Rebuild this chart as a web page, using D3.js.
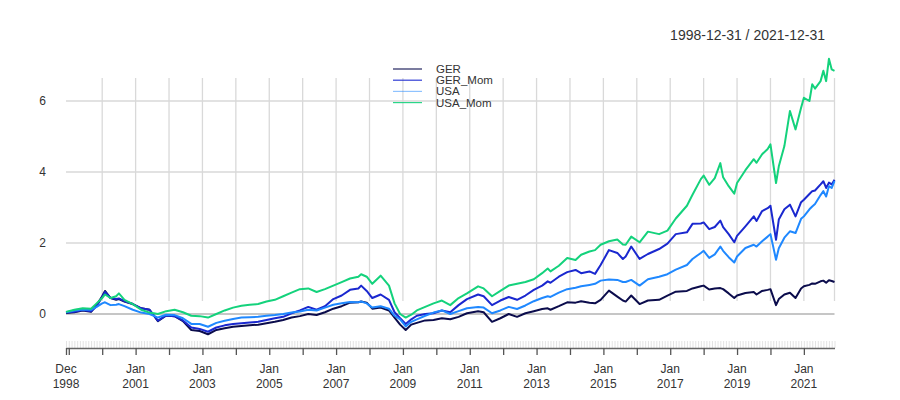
<!DOCTYPE html>
<html>
<head>
<meta charset="utf-8">
<script src="https://cdn.jsdelivr.net/npm/d3@7"></script>
<style>
  body { margin: 0; background: #fff; }
  svg { font-family: "Liberation Sans", Arial, sans-serif; }
</style>
</head>
<body>
<svg id="chart"></svg>
<script>
// sampled month ends (YYYY-MM), cumulative return per series
const months = ["1998-12","1999-03","1999-06","1999-09","1999-11","2000-01","2000-02","2000-04","2000-06","2000-07","2000-09","2000-12",
  "2001-03","2001-06","2001-09","2001-12","2002-03","2002-06","2002-09","2002-12","2003-03","2003-06","2003-09","2003-12",
  "2004-03","2004-06","2004-09","2004-12","2005-03","2005-06","2005-09","2005-12","2006-03","2006-06","2006-09","2006-12",
  "2007-03","2007-06","2007-09","2007-10","2007-12","2008-02","2008-05","2008-08","2008-10","2008-12","2009-02","2009-04",
  "2009-06","2009-09","2009-12","2010-03","2010-06","2010-09","2010-12","2011-04","2011-06","2011-09","2011-12","2012-03",
  "2012-06","2012-09","2012-12","2013-03","2013-05","2013-06","2013-09","2013-12","2014-03","2014-05","2014-08","2014-10",
  "2014-12","2015-03","2015-06","2015-08","2015-09","2015-11","2016-02","2016-05","2016-09","2016-12","2017-03","2017-07",
  "2017-09","2017-12","2018-01","2018-03","2018-05","2018-07","2018-08","2018-10","2018-12","2019-01","2019-04","2019-07",
  "2019-08","2019-10","2019-12","2020-01","2020-03","2020-04","2020-06","2020-08","2020-10","2020-12","2021-01","2021-03",
  "2021-04","2021-05","2021-07","2021-08","2021-09","2021-10","2021-11","2021-12"];

const ger = [0.03,0.05,0.10,0.06,0.25,0.50,0.65,0.45,0.40,0.42,0.35,0.28,
  0.16,0.12,-0.20,-0.04,-0.06,-0.20,-0.45,-0.48,-0.57,-0.45,-0.40,-0.36,
  -0.34,-0.32,-0.30,-0.26,-0.22,-0.17,-0.10,-0.06,0.00,-0.03,0.05,0.15,
  0.22,0.32,0.33,0.35,0.32,0.15,0.18,0.10,-0.10,-0.30,-0.45,-0.30,
  -0.25,-0.18,-0.17,-0.12,-0.15,-0.08,0.02,0.08,0.05,-0.22,-0.12,0.00,
  -0.08,0.02,0.08,0.14,0.16,0.12,0.22,0.33,0.32,0.36,0.32,0.30,
  0.40,0.66,0.49,0.38,0.35,0.52,0.28,0.38,0.40,0.52,0.63,0.65,
  0.72,0.78,0.80,0.69,0.72,0.73,0.70,0.58,0.45,0.52,0.59,0.62,
  0.55,0.65,0.68,0.70,0.25,0.42,0.55,0.60,0.45,0.72,0.78,0.82,
  0.86,0.85,0.92,0.94,0.88,0.95,0.93,0.90];

const gerMom = [0.04,0.06,0.11,0.08,0.22,0.48,0.62,0.45,0.42,0.44,0.36,0.28,
  0.16,0.12,-0.19,-0.04,-0.06,-0.18,-0.38,-0.42,-0.50,-0.38,-0.32,-0.28,
  -0.26,-0.24,-0.22,-0.17,-0.12,-0.08,0.02,0.10,0.20,0.12,0.22,0.42,
  0.52,0.68,0.72,0.80,0.65,0.45,0.55,0.40,0.05,-0.12,-0.28,-0.15,
  -0.05,0.00,0.02,0.10,0.05,0.25,0.42,0.55,0.50,0.25,0.38,0.48,
  0.40,0.52,0.68,0.80,0.92,0.88,1.05,1.18,1.24,1.15,1.20,1.13,
  1.38,1.80,1.72,1.55,1.62,1.90,1.55,1.69,1.83,1.98,2.25,2.30,
  2.54,2.55,2.58,2.39,2.45,2.63,2.45,2.25,2.02,2.20,2.47,2.75,
  2.62,2.90,2.98,3.05,2.09,2.66,2.95,3.08,2.75,3.15,3.22,3.38,
  3.46,3.48,3.65,3.74,3.55,3.70,3.65,3.78];

const usa = [0.05,0.10,0.13,0.12,0.20,0.30,0.33,0.25,0.26,0.28,0.22,0.12,
  0.04,0.00,-0.10,-0.02,-0.03,-0.12,-0.28,-0.28,-0.36,-0.25,-0.19,-0.14,
  -0.10,-0.09,-0.08,-0.05,-0.03,0.00,0.04,0.07,0.12,0.10,0.18,0.26,
  0.30,0.34,0.33,0.35,0.30,0.18,0.22,0.15,-0.05,-0.15,-0.35,-0.22,
  -0.15,-0.05,0.04,0.10,0.00,0.08,0.16,0.20,0.18,0.02,0.10,0.20,
  0.14,0.24,0.36,0.45,0.50,0.48,0.60,0.70,0.74,0.78,0.82,0.85,
  0.94,0.97,0.96,0.90,0.90,0.96,0.80,0.98,1.05,1.12,1.25,1.38,
  1.55,1.72,1.78,1.58,1.68,1.90,1.78,1.60,1.45,1.62,1.86,1.95,
  1.90,2.05,2.18,2.25,1.53,1.85,2.15,2.33,2.28,2.68,2.75,2.95,
  3.03,3.10,3.35,3.46,3.31,3.60,3.55,3.74];

const usaMom = [0.06,0.12,0.16,0.15,0.30,0.45,0.55,0.45,0.50,0.58,0.40,0.28,
  0.12,0.04,0.00,0.08,0.12,0.05,-0.05,-0.06,-0.10,0.00,0.10,0.18,
  0.23,0.26,0.28,0.35,0.40,0.50,0.60,0.70,0.72,0.62,0.70,0.80,
  0.90,1.00,1.05,1.12,1.05,0.85,1.08,0.80,0.30,0.00,-0.10,-0.02,
  0.10,0.20,0.30,0.38,0.25,0.45,0.58,0.78,0.72,0.50,0.65,0.80,
  0.85,0.90,0.98,1.15,1.28,1.20,1.36,1.58,1.52,1.67,1.76,1.80,
  1.95,2.05,2.10,1.96,1.95,2.18,2.02,2.32,2.25,2.35,2.69,3.05,
  3.36,3.80,3.90,3.64,3.83,4.25,3.85,3.60,3.39,3.69,4.05,4.36,
  4.26,4.50,4.65,4.78,3.69,4.16,4.73,5.72,5.20,5.81,6.09,6.00,
  6.47,6.35,6.56,6.85,6.56,7.19,6.89,6.85];

const seriesNames = ["GER", "GER_Mom", "USA", "USA_Mom"];
const seriesValues = [ger, gerMom, usa, usaMom];
const seriesColors = ["#0b0c4c", "#1a28cf", "#1f88ff", "#14d27c"];
const yTicks = [0, 2, 4, 6];
const xLabels = [["1998-12","Dec","1998"],["2001-01","Jan","2001"],["2003-01","Jan","2003"],["2005-01","Jan","2005"],
  ["2007-01","Jan","2007"],["2009-01","Jan","2009"],["2011-01","Jan","2011"],["2013-01","Jan","2013"],
  ["2015-01","Jan","2015"],["2017-01","Jan","2017"],["2019-01","Jan","2019"],["2021-01","Jan","2021"]];
const title = "1998-12-31 / 2021-12-31";

class XtsChart {

  constructor(_config) {
    this.config = {
      parentElement: _config.parentElement,
      containerWidth: _config.containerWidth || 900,
      containerHeight: _config.containerHeight || 400
    }
    this.initVis();
  }

  // observation number counted from Dec 1998
  monthIndex(s) {
    let p = s.split("-");
    return (+p[0] - 1998) * 12 + (+p[1] - 12);
  }

  initVis() {
    let vis = this;
    vis.nObs = vis.monthIndex("2021-12");
    vis.svg = d3.select(vis.config.parentElement)
      .attr('width', vis.config.containerWidth)
      .attr('height', vis.config.containerHeight);

    vis.x = d3.scaleLinear().domain([0, vis.nObs]).range([66, 834.5]);
    vis.y = d3.scaleLinear().domain([0, 6]).range([314, 101]);
    vis.updateVis();
  }

  updateVis() {
    let vis = this;
    let years = d3.range(1999, 2022).map(yr => vis.monthIndex(yr + "-01"));
    let gridX = years.filter(i => i > 1).concat([vis.nObs]);

    // vertical grid
    vis.svg.append('g').selectAll('line')
      .data(gridX).join('line')
      .attr('x1', d => vis.x(d)).attr('x2', d => vis.x(d))
      .attr('y1', 78).attr('y2', 301)
      .attr('stroke', '#d9d9d9').attr('stroke-width', 1.3);

    // horizontal grid
    vis.svg.append('g').selectAll('line')
      .data(yTicks).join('line')
      .attr('x1', vis.x(0)).attr('x2', vis.x(vis.nObs))
      .attr('y1', d => vis.y(d)).attr('y2', d => vis.y(d))
      .attr('stroke', d => d === 0 ? '#b3b3b3' : '#d9d9d9')
      .attr('stroke-width', 1.3);

    // y labels
    vis.svg.append('g')
      .attr('transform', 'translate(49,0)')
      .call(d3.axisLeft(vis.y).tickValues(yTicks).tickSize(0).tickFormat(d3.format('d')))
      .call(g => g.select('.domain').remove())
      .call(g => g.selectAll('text').attr('font-size', 12).attr('fill', '#333')
        .attr('font-family', '"Liberation Sans", Arial, sans-serif'));

    // minor ticks, one per month
    vis.svg.append('g')
      .attr('transform', 'translate(0,348)')
      .call(d3.axisBottom(vis.x).tickValues(d3.range(0, vis.nObs + 1)).tickSize(-7).tickFormat(''))
      .call(g => g.select('.domain').remove())
      .call(g => g.selectAll('line').attr('stroke', '#dcdcdc').attr('stroke-width', 0.8));

    // axis line and major ticks
    vis.svg.append('g')
      .attr('transform', 'translate(0,348)')
      .call(d3.axisBottom(vis.x).tickValues([0].concat(years)).tickSize(7).tickSizeOuter(0).tickFormat(''))
      .call(g => g.select('.domain').attr('stroke', '#666').attr('stroke-width', 1.3))
      .call(g => g.selectAll('line').attr('stroke', '#555').attr('stroke-width', 1.3));

    let lab = vis.svg.append('g').selectAll('text')
      .data(xLabels).join('text')
      .attr('x', d => vis.x(vis.monthIndex(d[0])))
      .attr('text-anchor', 'middle')
      .attr('font-size', 12).attr('fill', '#333');
    lab.append('tspan').attr('x', d => vis.x(vis.monthIndex(d[0]))).attr('y', 373).text(d => d[1]);
    lab.append('tspan').attr('x', d => vis.x(vis.monthIndex(d[0]))).attr('y', 388).text(d => d[2]);

    // series
    let line = d3.line()
      .x(d => vis.x(d.i))
      .y(d => vis.y(d.v));
    seriesValues.forEach((vals, k) => {
      let pts = months.map((m, j) => ({i: vis.monthIndex(m), v: vals[j]}));
      vis.svg.append('path')
        .datum(pts)
        .attr('d', line)
        .attr('fill', 'none')
        .attr('stroke', seriesColors[k])
        .attr('stroke-width', 2)
        .attr('stroke-linejoin', 'round');
    });

    // title
    vis.svg.append('text')
      .attr('x', 825).attr('y', 40)
      .attr('text-anchor', 'end')
      .attr('font-size', 14).attr('fill', '#333')
      .text(title);

    // legend
    let leg = vis.svg.append('g').selectAll('g')
      .data(seriesNames).join('g')
      .attr('transform', (d, k) => `translate(393, ${69 + k * 11.2})`);
    leg.append('line')
      .attr('x1', 0).attr('x2', 29)
      .attr('stroke', (d, k) => seriesColors[k])
      .attr('stroke-opacity', (d, k) => k === 2 ? 0.5 : 0.9)
      .attr('stroke-width', 1.2);
    leg.append('text')
      .attr('x', 43).attr('y', 4)
      .attr('font-size', 11.5).attr('fill', '#333')
      .text(d => d);
  }
}

new XtsChart({parentElement: '#chart'});
</script>
</body>
</html>
